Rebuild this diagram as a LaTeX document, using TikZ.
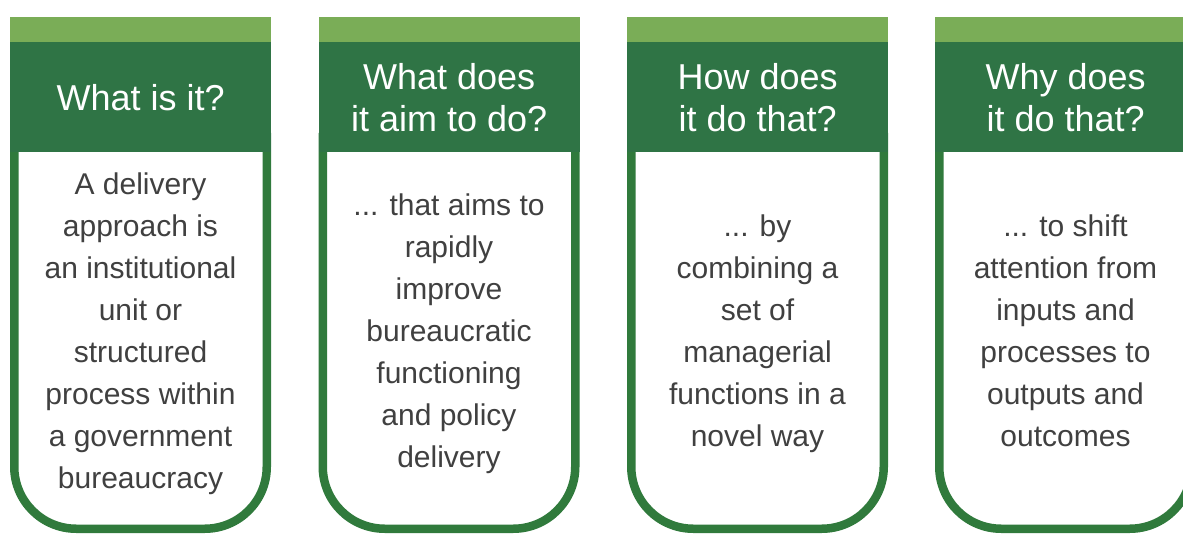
\documentclass[tikz,border=0pt]{standalone}
\usepackage{fontspec}
\setmainfont{Liberation Sans}
\definecolor{lightbar}{HTML}{7AAD57}
\definecolor{darkhead}{HTML}{2F7445}
\definecolor{boxline}{HTML}{307A3C}
\definecolor{bodytext}{HTML}{404040}
\begin{document}
\begin{tikzpicture}[x=1pt,y=-1pt,
  topbar/.style={fill=lightbar, draw=none, minimum width=261pt, minimum height=25pt, inner sep=0pt, anchor=north west},
  header/.style={fill=darkhead, draw=none, minimum width=261pt, minimum height=110pt, inner sep=0pt, anchor=north west,
                 text=white, font=\fontsize{36}{42}\selectfont, align=center},
  bodytxt/.style={text=bodytext, font=\fontsize{30}{42}\selectfont, align=center, inner sep=0pt},
  frame/.style={draw=boxline, line width=8.5pt, rounded corners=62pt, fill=white}]
\useasboundingbox (0,0) rectangle (1183,534);
\clip (0,0) rectangle (1183,534);

% column 1
\path[frame] (14.25,133) -- (14.25,528.75) -- (266.75,528.75) -- (266.75,133);
\node[topbar] (b1) at (10,17) {};
\node[header] (h1) at (10,42) {What is it?};
\node[bodytxt] (t1) at (140.5,334) {A delivery\\approach is\\an institutional\\unit or\\structured\\process within\\a government\\bureaucracy};

% column 2
\path[frame] (322.75,133) -- (322.75,528.75) -- (575.25,528.75) -- (575.25,133);
\node[topbar] (b2) at (318.5,17) {};
\node[header] (h2) at (318.5,42) {What does\\it aim to do?};
\node[bodytxt] (t2) at (449,334) {... that aims to\\rapidly\\improve\\bureaucratic\\functioning\\and policy\\delivery};

% column 3
\path[frame] (631.25,133) -- (631.25,528.75) -- (883.75,528.75) -- (883.75,133);
\node[topbar] (b3) at (627,17) {};
\node[header] (h3) at (627,42) {How does\\it do that?};
\node[bodytxt] (t3) at (757.5,334) {... by\\combining a\\set of\\managerial\\functions in a\\novel way};

% column 4
\path[frame] (939.25,133) -- (939.25,528.75) -- (1191.75,528.75) -- (1191.75,133);
\node[topbar] (b4) at (935,17) {};
\node[header] (h4) at (935,42) {Why does\\it do that?};
\node[bodytxt] (t4) at (1065.5,331) {... to shift\\attention from\\inputs and\\processes to\\outputs and\\outcomes};
\end{tikzpicture}
\end{document}
